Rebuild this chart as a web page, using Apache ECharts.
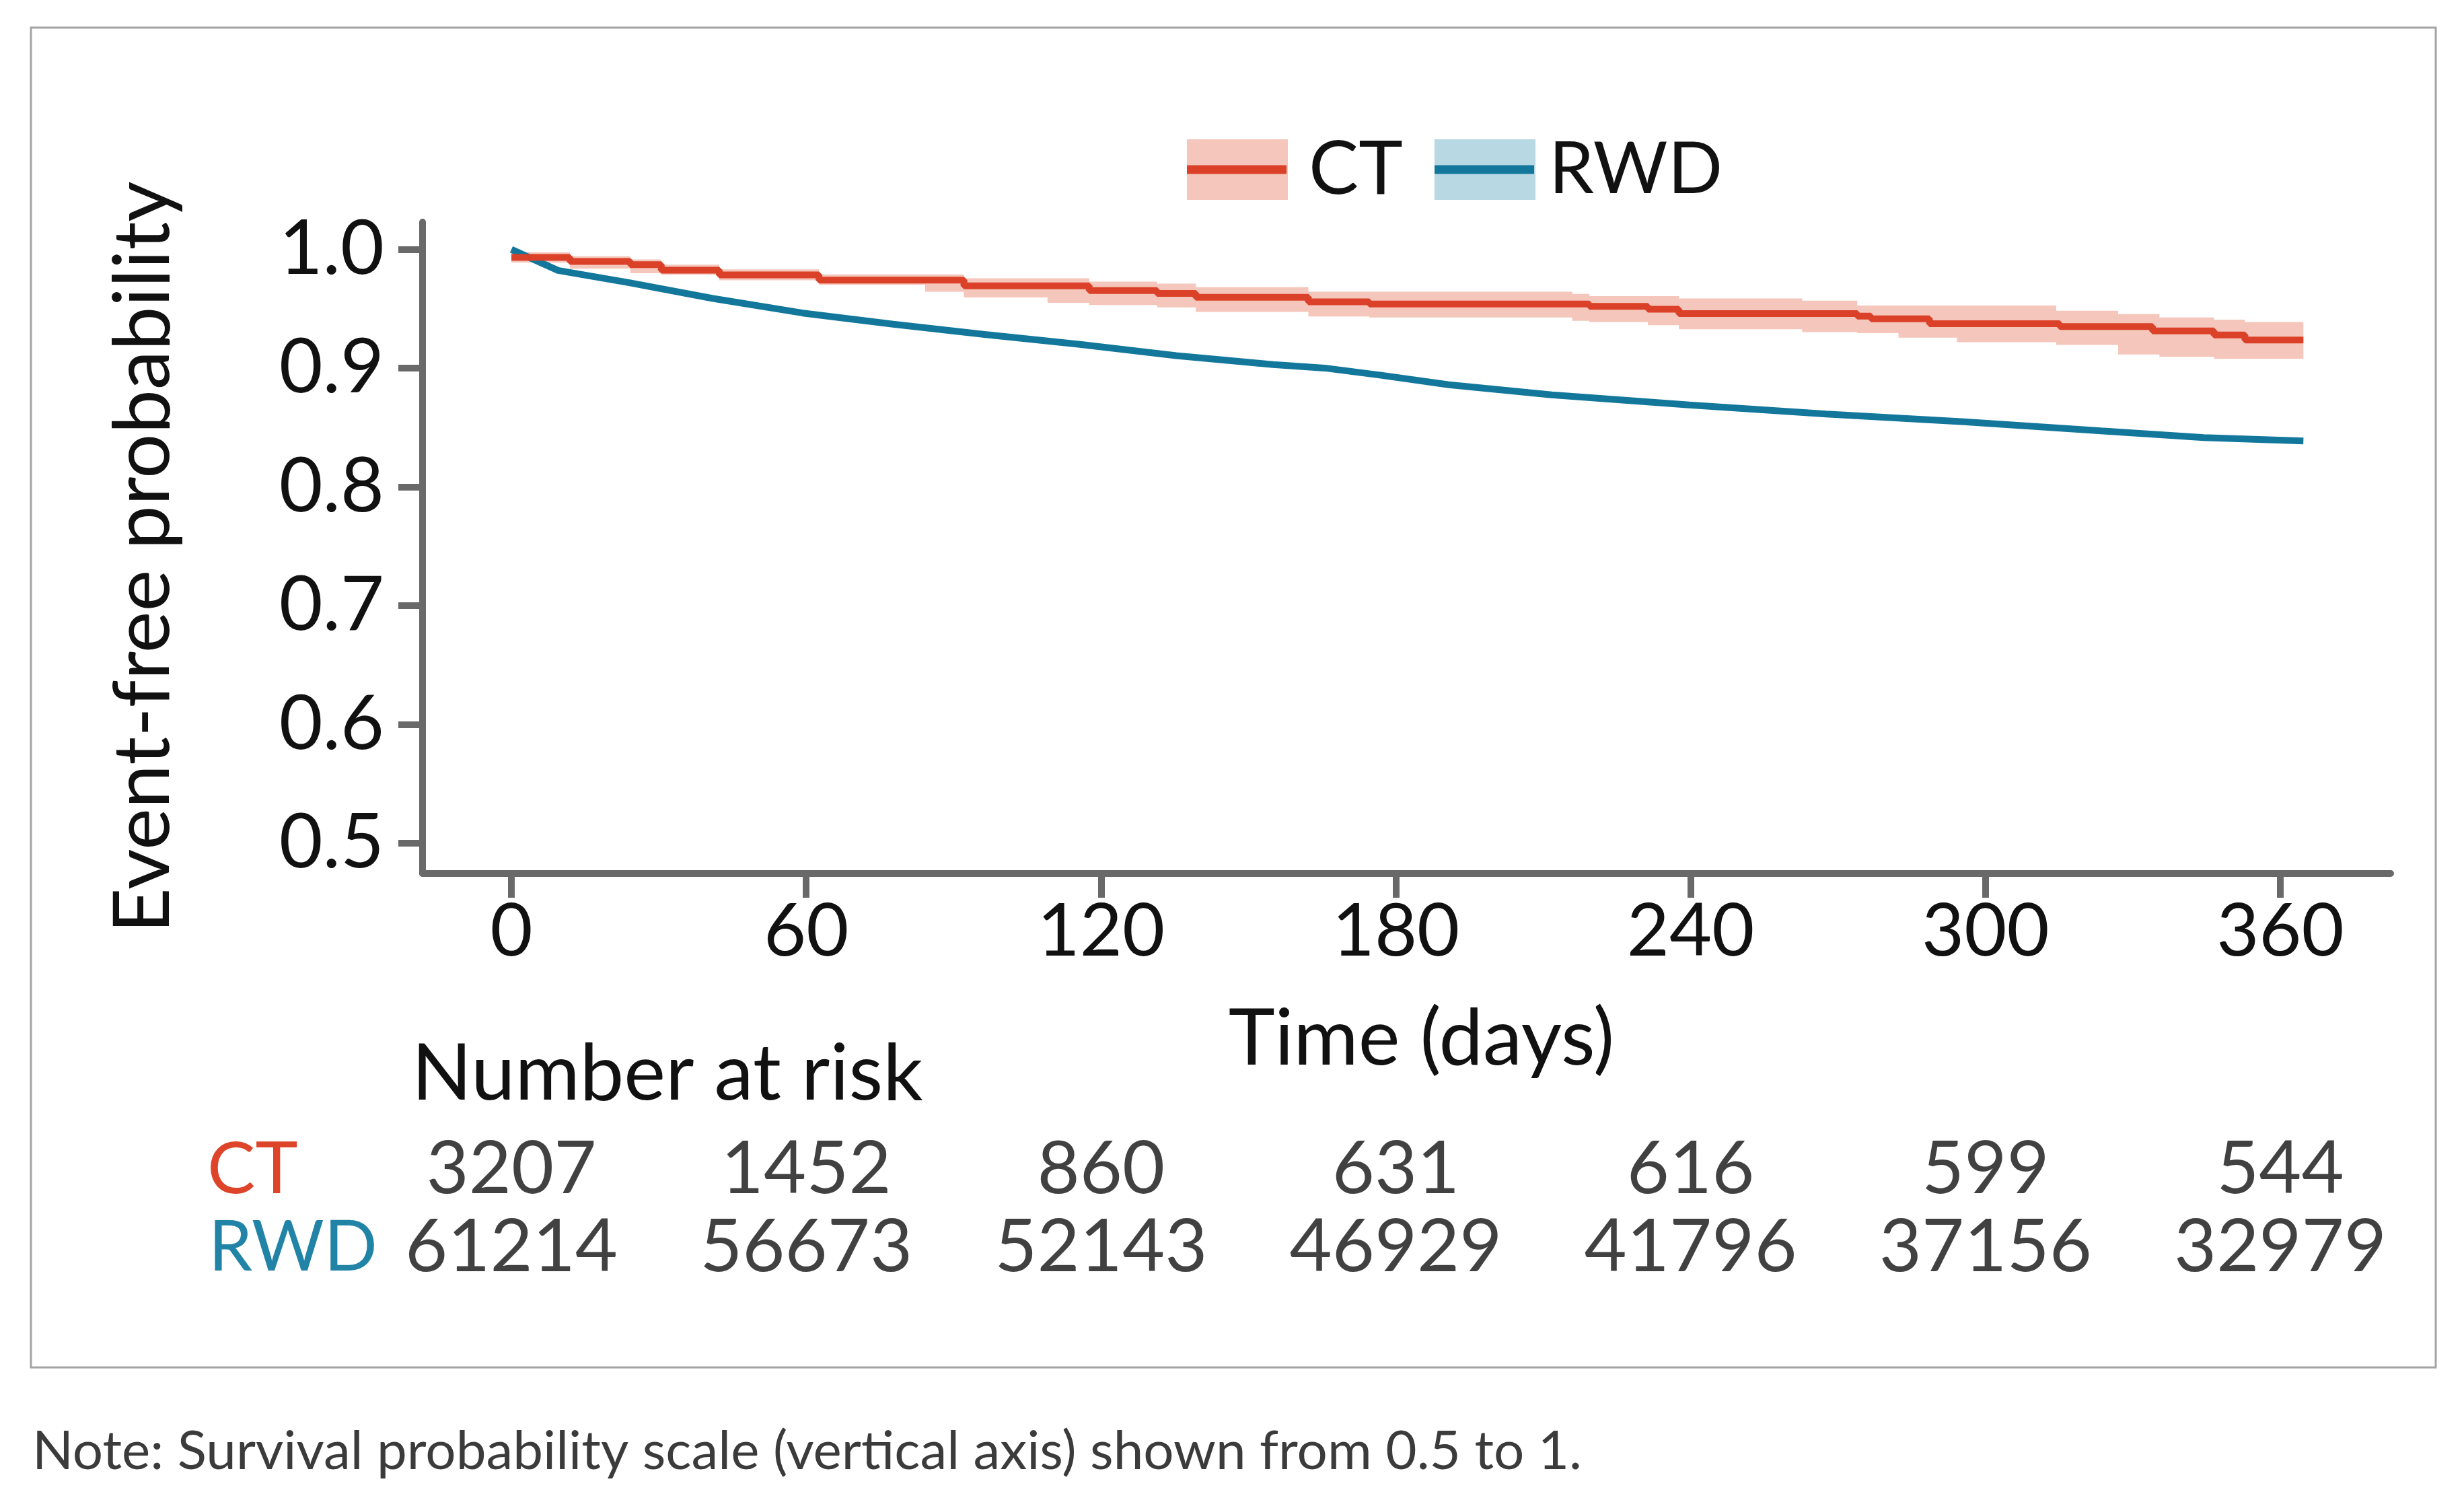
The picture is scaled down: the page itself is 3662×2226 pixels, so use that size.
<!DOCTYPE html>
<html>
<head>
<meta charset="utf-8">
<script src="https://cdn.jsdelivr.net/npm/echarts@6/dist/echarts.min.js"></script>
<style>
html,body{margin:0;padding:0;background:#ffffff;}
#chart{width:3662px;height:2226px;}
</style>
</head>
<body>
<div id="chart"></div>
<script>
// ---------- data ----------
const xTicks = [0, 60, 120, 180, 240, 300, 360];
const yTicks = [0.5, 0.6, 0.7, 0.8, 0.9, 1.0];

// CT Kaplan-Meier step estimate (time, survival)
const ctTime = [0, 11.9, 24.2, 30.5, 42.3, 62.6, 92.1, 117.6, 131.4, 139.3, 162.2, 174.6, 219.4, 231.3, 237.6, 273.9, 276.7, 288.6, 315.1, 334.0, 346.5, 352.8, 364.7];
const ctSurv = [0.9933, 0.9899, 0.9872, 0.9825, 0.9785, 0.9741, 0.9693, 0.9653, 0.9629, 0.9597, 0.9559, 0.9540, 0.9521, 0.9496, 0.9460, 0.9438, 0.9416, 0.9374, 0.9351, 0.9313, 0.9279, 0.9237, 0.9237];

// CT confidence band
const ctBandTime = [0, 11.9, 24.2, 30.5, 42.3, 62.6, 84.2, 92.1, 109.1, 117.6, 131.4, 139.3, 162.2, 174.6, 215.9, 219.4, 231.3, 237.6, 262.7, 273.9, 282.3, 294.2, 314.4, 327.0, 335.4, 346.5, 352.8, 364.7];
const ctUpper = [0.9975, 0.9942, 0.9915, 0.9872, 0.9832, 0.9790, 0.9790, 0.9757, 0.9757, 0.9729, 0.9711, 0.9682, 0.9644, 0.9644, 0.9625, 0.9606, 0.9606, 0.9587, 0.9568, 0.9527, 0.9527, 0.9527, 0.9483, 0.9455, 0.9427, 0.9408, 0.9389, 0.9389];
const ctLower = [0.9889, 0.9837, 0.9800, 0.9786, 0.9740, 0.9701, 0.9644, 0.9596, 0.9550, 0.9531, 0.9512, 0.9474, 0.9436, 0.9427, 0.9398, 0.9389, 0.9361, 0.9327, 0.9304, 0.9295, 0.9257, 0.9219, 0.9196, 0.9115, 0.9096, 0.9078, 0.9078, 0.9078];

// RWD estimate
const rwdTime = [0, 9.5, 24.0, 41.0, 59.3, 77.7, 96.0, 115.7, 135.3, 155.0, 165.5, 177.0, 190.8, 211.7, 239.7, 267.6, 295.6, 323.5, 344.4, 364.7];
const rwdSurv = [1.0, 0.9823, 0.9719, 0.9587, 0.9464, 0.9370, 0.9285, 0.9200, 0.9105, 0.9030, 0.9001, 0.8940, 0.8860, 0.8775, 0.8690, 0.8614, 0.8548, 0.8472, 0.8416, 0.8387];

// Number at risk
const riskCT  = [3207, 1452, 860, 631, 616, 599, 544];
const riskRWD = [61214, 56673, 52143, 46929, 41796, 37156, 32979];

// ---------- styles ----------
const FONT = 'Lato, "Noto Sans", sans-serif';
const FS = 117;      // headings / titles
const FS_NUM = 109;  // tick labels, risk numbers
const TXT = '#111111';
const AX = '#696969';
const CT_LINE = '#DA4128', CT_BAND = '#F5C6BB', CT_TXT = '#DE4429';
const RWD_LINE = '#12779B', RWD_BAND = '#B8D8E3', RWD_TXT = '#2183A6';

const X_MIN = -18.08, X_MAX = 382.46;
const Y_MIN = 0.4745, Y_MAX = 1.0230;

const pairs = (xs, ys) => xs.map((x, i) => [x, ys[i]]);

const riskData = [];
xTicks.forEach((t, i) => {
  riskData.push([t, 1.5, String(riskCT[i])]);
  riskData.push([t, 0.5, String(riskRWD[i])]);
});

const chart = echarts.init(document.getElementById('chart'));

const txt = (text, x, y, opts) => ({
  type: 'text', silent: true,
  style: Object.assign({
    text: text, x: x, y: y, fill: TXT, fontSize: FS, fontFamily: FONT,
    align: 'left', verticalAlign: 'middle', textAlign: 'left', textVerticalAlign: 'middle'
  }, opts || {})
});

function renderBand(params, api) {
  const n = ctBandTime.length;
  const pts = [];
  for (let i = 0; i < n; i++) {
    const t0 = ctBandTime[i];
    const t1 = i + 1 < n ? ctBandTime[i + 1] : ctBandTime[i];
    pts.push(api.coord([t0, ctUpper[i]]));
    pts.push(api.coord([t1, ctUpper[i]]));
  }
  for (let i = n - 1; i >= 0; i--) {
    const t0 = ctBandTime[i];
    const t1 = i + 1 < n ? ctBandTime[i + 1] : ctBandTime[i];
    pts.push(api.coord([t1, ctLower[i]]));
    pts.push(api.coord([t0, ctLower[i]]));
  }
  return { type: 'polygon', shape: { points: pts }, style: { fill: CT_BAND, stroke: null } };
}

chart.setOption({
  animation: false,
  backgroundColor: '#ffffff',
  grid: [
    { left: 628, right: 109, top: 330, bottom: 928, containLabel: false },
    { left: 628, right: 109, top: 1680, bottom: 314, containLabel: false }
  ],
  xAxis: [
    {
      type: 'value', gridIndex: 0, min: X_MIN, max: X_MAX,
      name: 'Time (days)', nameLocation: 'middle', nameGap: 188,
      nameTextStyle: { fontSize: FS, fontFamily: FONT, color: TXT, padding: [0, 0, 0, 44] },
      axisLine: { show: true, onZero: false, lineStyle: { color: AX, width: 10 } },
      axisTick: { show: true, customValues: xTicks, length: 36, lineStyle: { color: AX, width: 10 } },
      axisLabel: { show: true, customValues: xTicks, margin: 32, fontSize: FS_NUM, fontFamily: FONT, color: TXT,
                   formatter: v => String(Math.round(v)) },
      splitLine: { show: false }
    },
    {
      type: 'value', gridIndex: 1, min: X_MIN, max: X_MAX, show: false
    }
  ],
  yAxis: [
    {
      type: 'value', gridIndex: 0, min: Y_MIN, max: Y_MAX,
      name: 'Event-free probability', nameLocation: 'middle', nameGap: 356, nameRotate: 90,
      nameTextStyle: { fontSize: FS, fontFamily: FONT, color: TXT, padding: [0, 28, 0, 0] },
      axisLine: { show: true, onZero: false, lineStyle: { color: AX, width: 10 } },
      axisTick: { show: true, customValues: yTicks, length: 36, lineStyle: { color: AX, width: 10 } },
      axisLabel: { show: true, customValues: yTicks, margin: 57, fontSize: 112, fontFamily: FONT, color: TXT,
                   formatter: v => v.toFixed(1) },
      splitLine: { show: false }
    },
    {
      type: 'value', gridIndex: 1, min: 0, max: 2, show: false
    }
  ],
  series: [
    {
      name: 'CT 95% CI', type: 'custom', xAxisIndex: 0, yAxisIndex: 0,
      data: [[ctBandTime[0], ctUpper[0]]], renderItem: renderBand, silent: true, z: 1
    },
    {
      name: 'RWD', type: 'line', xAxisIndex: 0, yAxisIndex: 0,
      data: pairs(rwdTime, rwdSurv), symbol: 'none', smooth: false,
      lineStyle: { color: RWD_LINE, width: 10 }, z: 3
    },
    {
      name: 'CT', type: 'line', xAxisIndex: 0, yAxisIndex: 0,
      data: pairs(ctTime, ctSurv), step: 'end', symbol: 'none',
      lineStyle: { color: CT_LINE, width: 10, cap: 'butt' }, z: 4
    },
    {
      name: 'Number at risk', type: 'scatter', xAxisIndex: 1, yAxisIndex: 1,
      data: riskData, symbolSize: 1, itemStyle: { color: 'rgba(0,0,0,0)' }, silent: true,
      label: { show: true, position: 'inside', formatter: p => p.value[2],
               fontSize: FS_NUM, fontFamily: FONT, color: TXT }
    }
  ],
  graphic: [
    { type: 'rect', silent: true, z: -10,
      shape: { x: 46, y: 41, width: 3574, height: 1991 },
      style: { fill: 'none', stroke: '#a3a3a3', lineWidth: 3 } },
    // legend
    { type: 'rect', silent: true, shape: { x: 1764, y: 207, width: 150, height: 90 }, style: { fill: CT_BAND } },
    { type: 'rect', silent: true, shape: { x: 1764, y: 245.5, width: 148, height: 13 }, style: { fill: CT_LINE } },
    txt('CT', 1945, 252, { fontSize: 111 }),
    { type: 'rect', silent: true, shape: { x: 2132, y: 207, width: 150, height: 90 }, style: { fill: RWD_BAND } },
    { type: 'rect', silent: true, shape: { x: 2132, y: 245.5, width: 148, height: 13 }, style: { fill: RWD_LINE } },
    txt('RWD', 2302, 252, { fontSize: 107 }),
    // risk table headings
    txt('Number at risk', 612, 1596),
    txt('CT', 308, 1738, { fill: CT_TXT, fontSize: 107 }),
    txt('RWD', 310, 1854, { fill: RWD_TXT, fontSize: 104 }),
    // note
    txt('Note: Survival probability scale (vertical axis) shown from 0.5 to 1.', 48, 2157, { fontSize: 80, fill: '#3b3b3b' })
  ]
});
</script>
</body>
</html>
